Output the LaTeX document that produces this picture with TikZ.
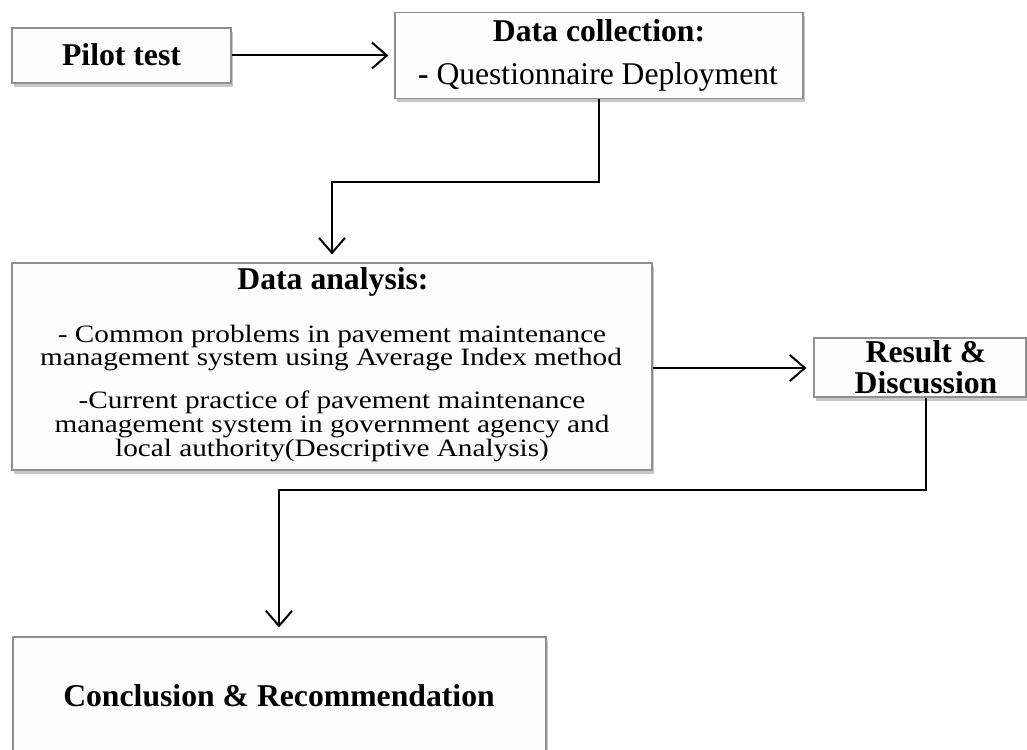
\documentclass[tikz,border=0pt]{standalone}
\usepackage{fontspec}
\setmainfont{Liberation Serif}
\newfontfamily\widefont[FakeStretch=1.17]{Liberation Serif}
\usetikzlibrary{arrows.meta,shadows}
\definecolor{boxline}{HTML}{8F8F8F}
\definecolor{boxfill}{HTML}{FDFDFD}
\begin{document}
\begin{tikzpicture}[x=1pt,y=-1pt,
  box/.style={draw=boxline, line width=1.2pt, fill=boxfill, inner sep=0pt,
    drop shadow={shadow xshift=2pt, shadow yshift=-4pt, fill=black, opacity=0.22}},
  ttl/.style={font=\fontsize{31.7}{36}\selectfont\bfseries, anchor=base, inner sep=0pt},
  bdy/.style={font=\widefont\fontsize{25}{26}\selectfont, anchor=base, inner sep=0pt},
  arr/.style={draw=black, line width=2pt, -{Straight Barb[length=15pt,width=26pt]}}]
\useasboundingbox (0,0) rectangle (1027,749);

% boxes
\node[box, minimum width=219pt, minimum height=55pt] (pilotbox) at (121.5,55.5) {};
\node[box, minimum width=408pt, minimum height=86pt] (dcbox) at (599,55.5) {};
\node[box, minimum width=640pt, minimum height=207pt] (dabox) at (332,366.5) {};
\node[box, minimum width=212pt, minimum height=59pt] (resbox) at (920,367.5) {};
\node[box, minimum width=533pt, minimum height=140pt] (conbox) at (279.5,707) {};

% texts
\node[ttl] (pilottxt) at (121.5,66) {Pilot test};
\node[ttl] (dctitle) at (599,42) {Data collection:};
\node[inner sep=0pt, anchor=base, font=\fontsize{31.6}{34}\selectfont] (dcline) at (598,85) {\textbf{-} Questionnaire Deployment};
\node[ttl] (datitle) at (333,289) {Data analysis:};
\node[bdy] (da1) at (332,342) {- Common problems in pavement maintenance};
\node[bdy] (da2) at (331,365) {management system using Average Index method};
\node[bdy] (da3) at (332,408) {-Current practice of pavement maintenance};
\node[bdy] (da4) at (332,432) {management system in government agency and};
\node[bdy] (da5) at (332,456) {local authority(Descriptive Analysis)};
\node[ttl] (res1) at (926,362) {Result \&};
\node[ttl] (res2) at (926,393) {Discussion};
\node[ttl] (contxt) at (279,706) {Conclusion \& Recommendation};

% connectors
\draw[arr, shorten >=6pt] (pilotbox.east) -- (dcbox.west);
\coordinate (k1) at (332,182);
\draw[arr, shorten >=8pt] (dcbox.south) |- (k1) -- (k1 |- dabox.north);
\draw[arr, shorten >=7pt] (dabox.east |- 0,368) -- (resbox.west |- 0,368);
\coordinate (k3) at (926,490);
\coordinate (k2) at (279,490);
\draw[arr, shorten >=9pt] (k3 |- resbox.south) -- (k3) -- (k2) -- (k2 |- conbox.north);
\end{tikzpicture}
\end{document}
